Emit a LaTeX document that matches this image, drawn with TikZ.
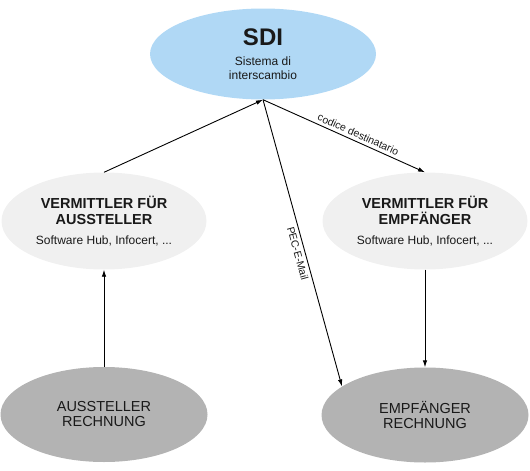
\documentclass[tikz,border=0pt]{standalone}
\usepackage{fontspec}
\setmainfont{Liberation Sans}
\usepackage{tikz}
\usetikzlibrary{positioning,shapes.geometric,arrows.meta}
\usepackage{xcolor}
\definecolor{sdiblue}{RGB}{176,216,245}
\definecolor{hubgray}{RGB}{240,240,240}
\definecolor{endgray}{RGB}{179,179,179}
\definecolor{inkgray}{RGB}{25,25,25}

\begin{document}
\begin{tikzpicture}[
    x=1pt, y=-1pt,
    blob/.style={ellipse, inner sep=0pt, align=center, text=inkgray},
    hub/.style={blob, fill=hubgray, minimum width=205pt, minimum height=97pt, font=\fontsize{14.5}{15.5}\selectfont\bfseries},
    party/.style={blob, fill=endgray, minimum width=207pt, minimum height=95pt, font=\fontsize{14.5}{15}\selectfont},
    arrow/.style={-{Latex[length=7pt,width=4.5pt]}, line width=0.9pt},
    edgelabel/.style={font=\fontsize{10.5}{12}\selectfont, text=inkgray, sloped, inner sep=3pt}
]
\useasboundingbox (0,0) rectangle (530,471);

\node[blob, fill=sdiblue, minimum width=226pt, minimum height=91pt, font=\fontsize{12}{14.3}\selectfont] (sdi) at (263,54)
    {{\fontsize{24}{24}\selectfont\bfseries SDI}\\[5.7pt]Sistema di\\interscambio};
\node[hub] (senderhub) at (104,221)
    {VERMITTLER FÜR\\AUSSTELLER\\[4.5pt]{\fontsize{12}{14}\selectfont\mdseries Software Hub, Infocert, ...}};
\node[hub] (receiverhub) at (425,221)
    {VERMITTLER FÜR\\EMPFÄNGER\\[4.5pt]{\fontsize{12}{14}\selectfont\mdseries Software Hub, Infocert, ...}};
\node[party] (sender) at (104,414.5) {AUSSTELLER\\RECHNUNG};
\node[party] (receiver) at (425,415) {EMPFÄNGER\\RECHNUNG};

\draw[arrow] (senderhub.north) -- (sdi.south);
\draw[arrow] (sdi.south) -- node[edgelabel, above, pos=0.57] {codice destinatario} (receiverhub.north);
\draw[arrow] (sdi.south) -- node[edgelabel, below, pos=0.53] {PEC-E-Mail} (receiver.161);
\draw[arrow] (sender.north) -- (senderhub.south);
\draw[arrow] (receiverhub.south) -- (receiver.north);

\end{tikzpicture}
\end{document}
